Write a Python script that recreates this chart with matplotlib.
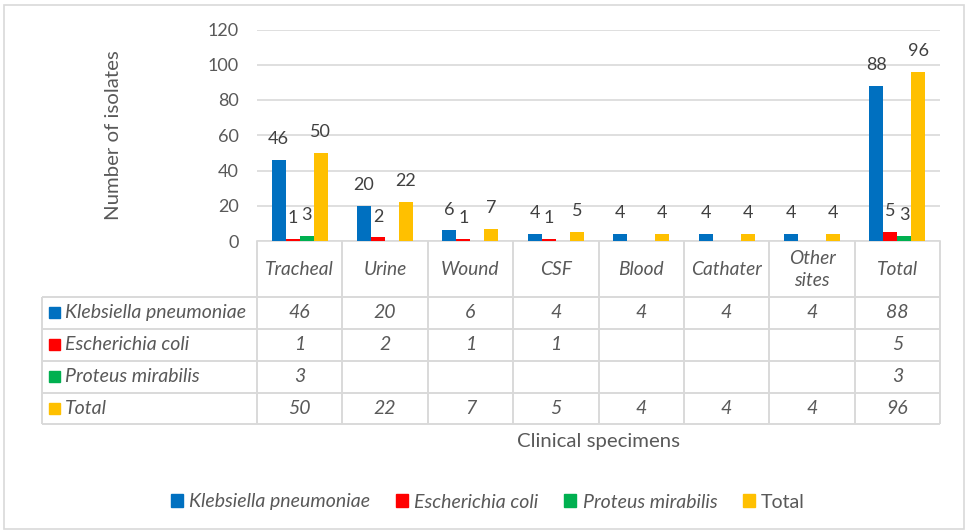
import matplotlib
matplotlib.use("Agg")
import matplotlib.pyplot as plt
import matplotlib.transforms as mtransforms
from matplotlib.patches import Patch, Rectangle
import numpy as np

# ---------------- data ----------------
categories = ["Tracheal", "Urine", "Wound", "CSF", "Blood", "Cathater", "Other\nsites", "Total"]
series_names = ["Klebsiella pneumoniae", "Escherichia coli", "Proteus mirabilis", "Total"]
klebsiella = [46, 20, 6, 4, 4, 4, 4, 88]
ecoli = [1, 2, 1, 1, None, None, None, 5]
proteus = [3, None, None, None, None, None, None, 3]
total = [50, 22, 7, 5, 4, 4, 4, 96]
y_ticks = [0, 20, 40, 60, 80, 100, 120]

series = [klebsiella, ecoli, proteus, total]
colors = ["#0070C0", "#FF0000", "#00B050", "#FFC000"]
TXT = "#595959"
GRID = "#D9D9D9"
FONT = ["Lato", "DejaVu Sans"]

plt.rcParams["font.family"] = FONT

W, H = 966, 531
fig = plt.figure(figsize=(W / 100, H / 100), dpi=100)

def px_rect(x0, y0, x1, y1):
    return [x0 / W, 1 - y1 / H, (x1 - x0) / W, (y1 - y0) / H]

# outer border
fig.patches.append(Rectangle((4 / W, 2 / H), (964 - 4) / W, (526 - 2) / H,
                             transform=fig.transFigure, fill=False,
                             edgecolor=GRID, linewidth=1.2))

# ---------------- main axes ----------------
PL, PR, PT, PB = 257, 940, 29.5, 241
ax = fig.add_axes(px_rect(PL, PT, PR, PB))
n = len(categories)
x = np.arange(n)
bw = 0.164
offsets = (np.arange(4) - 1.5) * bw
for s, vals in enumerate(series):
    for i, v in enumerate(vals):
        if v is None:
            continue
        ax.bar(x[i] + offsets[s], v, width=bw, color=colors[s], zorder=3)
        ax.annotate(str(v), (x[i] + offsets[s], v), xytext=(0, 15),
                    textcoords="offset points", ha="center", va="center",
                    fontsize=13, color="#404040")

ax.set_xlim(-0.5, n - 0.5)
ax.set_ylim(0, 120)
ax.set_yticks(y_ticks)
ax.set_yticklabels([str(t) for t in y_ticks], fontsize=13, color=TXT)
ax.tick_params(axis="y", length=0, pad=13)
ax.set_xticks([])
for sp in ["top", "right", "left"]:
    ax.spines[sp].set_visible(False)
ax.spines["bottom"].set_color(GRID)
ax.spines["bottom"].set_linewidth(1.2)
ax.grid(axis="y", color=GRID, linewidth=1.2, zorder=0)
ax.set_axisbelow(True)
ax.set_ylabel("Number of isolates", fontsize=14.7, color=TXT, labelpad=62)

# ---------------- data table ----------------
TL, TB = 42, 424
rows_y = [296.5, 328.5, 360.5, 392.5, 424]
tax = fig.add_axes(px_rect(TL, PB, PR, TB))
tax.set_xlim(-0.5 - (PL - TL) / ((PR - PL) / n), n - 0.5)
tax.set_ylim(TB, PB)
tax.axis("off")
lk = dict(color=GRID, linewidth=1.4, solid_capstyle="butt", clip_on=False)
# header vertical lines
for b in np.arange(n + 1) - 0.5:
    tax.plot([b, b], [PB, TB], **lk)
# left border of label column
xl = tax.get_xlim()[0]
tax.plot([xl, xl], [rows_y[0], TB], **lk)
for yy in rows_y:
    tax.plot([xl, n - 0.5], [yy, yy], **lk)
# category labels
for i, c in enumerate(categories):
    tax.text(x[i], (PB + rows_y[0]) / 2 + 1, c, ha="center", va="center",
             fontsize=13.8, style="italic", color=TXT, linespacing=1.35)
# rows
bt = mtransforms.blended_transform_factory(tax.transAxes, tax.transData)
for r, (name, vals) in enumerate(zip(series_names, series)):
    yc = (rows_y[r] + rows_y[r + 1]) / 2
    tax.add_patch(Rectangle((0.0078, yc - 5.5), 0.0125, 11, transform=bt,
                            color=colors[r], clip_on=False))
    tax.text(0.026, yc, name, transform=bt, ha="left", va="center",
             fontsize=14, style="italic", color=TXT)
    for i, v in enumerate(vals):
        if v is None:
            continue
        tax.text(x[i], yc, str(v), ha="center", va="center",
                 fontsize=14, style="italic", color=TXT)

# x axis title
fig.text((PL + PR) / 2 / W, 1 - 442 / H, "Clinical specimens", ha="center",
         va="center", fontsize=14.7, color=TXT)

# ---------------- legend ----------------
handles = [Patch(color=c) for c in colors]
leg = fig.legend(handles, series_names, loc="center", ncol=4,
                 bbox_to_anchor=(488 / W, 1 - 502 / H), frameon=False,
                 fontsize=14, handlelength=0.62, handleheight=0.62,
                 handletextpad=0.32, columnspacing=1.32)
for t in leg.get_texts():
    t.set_color(TXT)
    if t.get_text() != "Total":
        t.set_style("italic")

fig.savefig("out.png", dpi=100)
